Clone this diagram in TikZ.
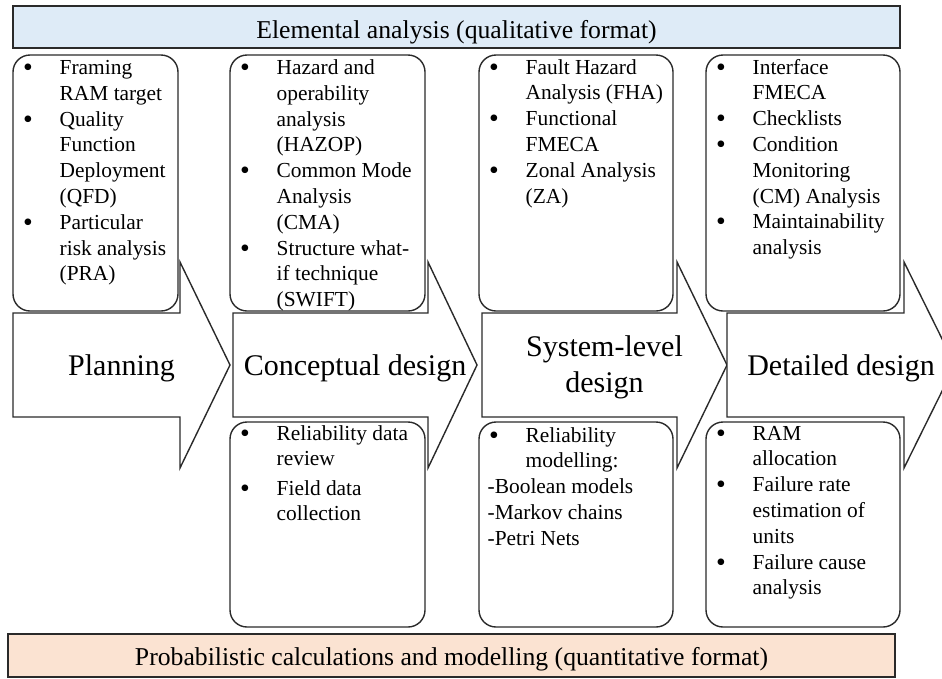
\documentclass[tikz,border=0pt]{standalone}
\usepackage{fontspec}
\setmainfont{Liberation Serif}
\definecolor{linegray}{HTML}{2A2A2A}
\definecolor{bannerblue}{HTML}{DEEBF7}
\definecolor{bannerpeach}{HTML}{FBE3D2}
% bullet column of the item lists
\newcommand{\bulcol}{\makebox[36.5pt][l]{\raisebox{-2pt}{\scalebox{1.3}{\textbullet}}}}
\newcommand{\dashline}[1]{\multicolumn{2}{@{}l@{}}{\hspace*{-1.5pt}#1}}

\begin{document}
\begin{tikzpicture}[x=1pt,y=-1pt,
  outline/.style={draw=linegray, line width=1.4pt},
  banner/.style={draw=linegray, line width=1.7pt},
  card/.style={draw=linegray, line width=1.4pt, fill=white, rounded corners=17pt,
    inner sep=0pt, outer sep=0pt},
  topcard/.style={card, minimum height=256pt},
  lowcard/.style={card, minimum height=205pt},
  listtext/.style={anchor=base west, inner sep=0pt, font=\fontsize{21.4}{25.8}\selectfont},
  bannertext/.style={anchor=base, inner sep=0pt, font=\fontsize{25.7}{30}\selectfont},
  phasetext/.style={anchor=base, inner sep=0pt, font=\fontsize{30}{36}\selectfont},
]
\useasboundingbox (0,0) rectangle (942,678);
\clip (0,0) rectangle (942,678);
\fill[white] (0,0) rectangle (942,678);

% banners
\draw[banner, fill=bannerblue] (13,6) rectangle (900,48);
\coordinate (topmid) at (456.5,38.5);
\node[bannertext] (elemental) at (topmid) {Elemental analysis (qualitative format)};

\draw[banner, fill=bannerpeach] (8,634) rectangle (895,677);
\coordinate (botmid) at (451.5,665);
\node[bannertext] (probabilistic) at (botmid) {Probabilistic calculations and modelling (quantitative format)};

% phase arrows: left edge, shoulder, tip
\newcommand{\phasearrow}[3]{%
  \draw[outline, fill=white] (#1,313) -- (#2,313) -- (#2,262) -- (#3,365)
    -- (#2,468) -- (#2,417) -- (#1,417) -- cycle;}
\phasearrow{13}{180}{230}
\phasearrow{233}{428}{477}
\phasearrow{482}{677}{727}
\phasearrow{727}{904}{955}

\node[phasetext] (planning) at (121.5,375) {Planning};
\node[phasetext] (conceptual) at (355,375) {Conceptual design};
\node[phasetext] (systemlevel) at (604.5,356)
  {\begin{tabular}[t]{@{}c@{}}System-level\\design\end{tabular}};
\node[phasetext] (detailed) at (841,375) {Detailed design};

% upper cards
\node[topcard, minimum width=165pt] (t1) at (95.5,183) {};
\node[topcard, minimum width=195pt] (t2) at (327.5,183) {};
\node[topcard, minimum width=194pt] (t3) at (576,183) {};
\node[topcard, minimum width=194pt] (t4) at (803,183) {};

% lower cards
\node[lowcard, minimum width=195pt] (b2) at (327.5,524.5) {};
\node[lowcard, minimum width=194pt] (b3) at (576,524.5) {};
\node[lowcard, minimum width=194pt] (b4) at (803,524.5) {};

\node[listtext] (t1list) at ([xshift=10pt,yshift=-19.5pt]t1.north west)
{\begin{tabular}[t]{@{}l@{}l@{}}
\bulcol & Framing\\ & RAM target\\
\bulcol & Quality\\ & Function\\ & Deployment\\ & (QFD)\\
\bulcol & Particular\\ & risk analysis\\ & (PRA)
\end{tabular}};

\node[listtext] (t2list) at ([xshift=10pt,yshift=-19.5pt]t2.north west)
{\begin{tabular}[t]{@{}l@{}l@{}}
\bulcol & Hazard and\\ & operability\\ & analysis\\ & (HAZOP)\\
\bulcol & Common Mode\\ & Analysis\\ & (CMA)\\
\bulcol & Structure what-\\ & if technique\\ & (SWIFT)
\end{tabular}};

\node[listtext] (t3list) at ([xshift=10pt,yshift=-19pt]t3.north west)
{\begin{tabular}[t]{@{}l@{}l@{}}
\bulcol & Fault Hazard\\ & Analysis (FHA)\\
\bulcol & Functional\\ & FMECA\\
\bulcol & Zonal Analysis\\ & (ZA)
\end{tabular}};

\node[listtext] (t4list) at ([xshift=10pt,yshift=-19pt]t4.north west)
{\begin{tabular}[t]{@{}l@{}l@{}}
\bulcol & Interface\\ & FMECA\\
\bulcol & Checklists\\
\bulcol & Condition\\ & Monitoring\\ & (CM) Analysis\\
\bulcol & Maintainability\\ & analysis
\end{tabular}};

\node[listtext] (b2list) at ([xshift=10pt,yshift=-18pt]b2.north west)
{\begin{tabular}[t]{@{}l@{}l@{}}
\bulcol & Reliability data\\ & review\\[3.5pt]
\bulcol & Field data\\ & collection
\end{tabular}};

\node[listtext] (b3list) at ([xshift=10pt,yshift=-20pt]b3.north west)
{\begin{tabular}[t]{@{}l@{}l@{}}
\bulcol & Reliability\\ & modelling:\\
\dashline{-Boolean models}\\
\dashline{-Markov chains}\\
\dashline{-Petri Nets}
\end{tabular}};

\node[listtext] (b4list) at ([xshift=10pt,yshift=-18pt]b4.north west)
{\begin{tabular}[t]{@{}l@{}l@{}}
\bulcol & RAM\\ & allocation\\
\bulcol & Failure rate\\ & estimation of\\ & units\\
\bulcol & Failure cause\\ & analysis
\end{tabular}};
\end{tikzpicture}
\end{document}
